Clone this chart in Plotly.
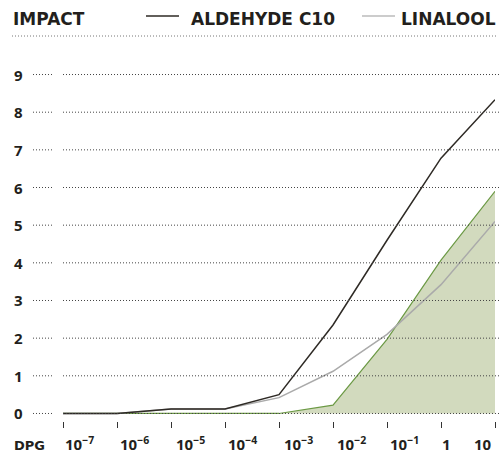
import plotly.graph_objects as go

# ---- data ----
doses = ["10<sup>−7</sup>", "10<sup>−6</sup>", "10<sup>−5</sup>", "10<sup>−4</sup>",
         "10<sup>−3</sup>", "10<sup>−2</sup>", "10<sup>−1</sup>", "1", "10"]
aldehyde_c10 = [0, 0, 0.12, 0.12, 0.5, 2.35, 4.6, 6.78, 8.33]
linalool = [0, 0, 0.12, 0.12, 0.42, 1.12, 2.1, 3.42, 5.1]
dpg = [0, 0, 0, 0, 0, 0.22, 1.97, 4.07, 5.9]
y_ticks = [0, 1, 2, 3, 4, 5, 6, 7, 8, 9]

W, H = 499, 450
L, R, T, B = 63, 4, 67, 29
PW, PH = W - L - R, H - T - B


def px_x(px):
    return (px - L) / PW


def px_y(py):
    return (H - B - py) / PH


FONT = "Open Sans"
HFONT = "DejaVu Sans"
DARK = "#231f1c"

fig = go.Figure()
xs = list(range(len(doses)))
fig.add_trace(go.Scatter(x=xs, y=dpg, mode="lines", fill="tozeroy",
                         fillcolor="#d2dabe", line=dict(color="#6b9944", width=1.2),
                         hoverinfo="skip", showlegend=False))
fig.add_trace(go.Scatter(x=xs, y=linalool, mode="lines",
                         line=dict(color="#aaaaaa", width=1.5),
                         hoverinfo="skip", showlegend=False))
fig.add_trace(go.Scatter(x=xs, y=aldehyde_c10, mode="lines",
                         line=dict(color="#2e2a25", width=1.5),
                         hoverinfo="skip", showlegend=False))

shapes = []
annotations = []
for v in y_ticks:
    for x0, x1 in ((33, 52), (63, 499)):
        shapes.append(dict(type="line", xref="paper", yref="y", layer="above",
                           x0=px_x(x0), x1=px_x(x1), y0=v, y1=v,
                           line=dict(color="#444444", width=1, dash="1px,2px")))
    annotations.append(dict(xref="paper", yref="y", x=px_x(12), y=v, xanchor="left",
                            yanchor="middle", showarrow=False, text=f"<b>{v}</b>",
                            font=dict(family=FONT, size=15, color=DARK)))

# header dotted rule
shapes.append(dict(type="line", xref="paper", yref="paper", layer="above",
                   x0=px_x(12), x1=px_x(497), y0=px_y(36), y1=px_y(36),
                   line=dict(color="#777777", width=1, dash="1px,2px")))

# legend lines
shapes.append(dict(type="line", xref="paper", yref="paper",
                   x0=px_x(146), x1=px_x(179), y0=px_y(16), y1=px_y(16),
                   line=dict(color="#2e2a25", width=1.5)))
shapes.append(dict(type="line", xref="paper", yref="paper",
                   x0=px_x(362), x1=px_x(395), y0=px_y(16), y1=px_y(16),
                   line=dict(color="#bbbbbb", width=1.5)))

for txt, x in (("IMPACT", 11), ("ALDEHYDE C10", 189), ("LINALOOL", 399)):
    annotations.append(dict(xref="paper", yref="paper", x=px_x(x), y=px_y(19.5),
                            xanchor="left", yanchor="middle", showarrow=False,
                            text=f"<b>{txt}</b>",
                            font=dict(family=HFONT, size=17, color=DARK)))

# x labels
x_label_shift = [0, 1, 3, 1, 3, 2, 1, -1, -23]
for i, lab in enumerate(doses):
    annotations.append(dict(xref="x", yref="paper", x=i, y=px_y(443.5),
                            xanchor="left", yanchor="middle", showarrow=False,
                            xshift=x_label_shift[i], text=f"<b>{lab}</b>",
                            font=dict(family=FONT, size=15, color=DARK)))
annotations.append(dict(xref="paper", yref="paper", x=px_x(12), y=px_y(445),
                        xanchor="left", yanchor="middle", showarrow=False,
                        text="<b>DPG</b>", font=dict(family=HFONT, size=13, color=DARK)))

fig.update_layout(
    width=W, height=H,
    margin=dict(l=L, r=R, t=T, b=B),
    paper_bgcolor="white", plot_bgcolor="white",
    showlegend=False,
    shapes=shapes, annotations=annotations,
    xaxis=dict(range=[0, len(doses) - 1], tickvals=xs, showticklabels=False,
               ticks="outside", ticklen=6, tickwidth=1, tickcolor="#333333",
               showgrid=False, zeroline=False, showline=False, fixedrange=True),
    yaxis=dict(range=[-0.2, 9.2], showticklabels=False, showgrid=False,
               zeroline=False, showline=False, ticks="", fixedrange=True),
)

fig.write_html("out.html", config={"displayModeBar": False},
               post_script="document.body.style.margin='0';document.body.style.overflow='hidden';")
